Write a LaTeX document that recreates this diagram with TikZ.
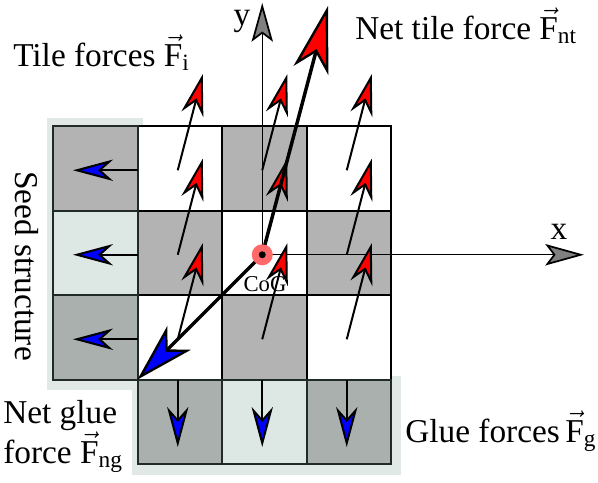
\documentclass[tikz,border=0pt]{standalone}
\usepackage{amsmath,amssymb}
\usepackage{fontspec}
\setmainfont{Liberation Serif}
\usetikzlibrary{arrows.meta}

\definecolor{tilegray}{RGB}{179,179,179}
\definecolor{seedlight}{RGB}{221,232,229}
\definecolor{seeddark}{RGB}{169,176,174}
\definecolor{seedback}{RGB}{224,233,230}
\definecolor{seedline}{RGB}{32,42,40}
\definecolor{cogred}{RGB}{255,105,105}
\definecolor{axisgray}{RGB}{128,128,128}

\newcommand{\vF}[1]{$\vec{\text{F}}_{\text{#1}}$}

\tikzset{
  tilearrow/.style={line width=1.5pt,-{Stealth[length=31pt,width=17pt,inset=10pt,fill=red,line width=1.5pt]}},
  gluearrow/.style={line width=1.2pt,-{Stealth[length=30pt,width=16pt,inset=9pt,fill=blue,line width=1.5pt]}},
  axisarrow/.style={line width=1pt,-{Stealth[length=29pt,width=16pt,inset=6pt,fill=axisgray,line width=1.3pt]}},
  nettile/.style={line width=2.6pt,-{Stealth[length=50pt,width=27pt,inset=14pt,fill=red,line width=1.8pt]}},
  netglue/.style={line width=2.6pt,-{Stealth[length=44pt,width=25pt,inset=12pt,fill=blue,line width=1.8pt]}},
  forcetext/.style={font=\fontsize{25}{30}\selectfont, inner sep=0pt},
}

\begin{document}
\begin{tikzpicture}[x=0.75pt,y=0.75pt,yscale=-1,xscale=1]
\useasboundingbox (0,0) rectangle (598,482);

%Shape: Rectangle (seed background)
\fill [seedback] (47,118) rectangle (143,390);
\fill [seedback] (132,376) rectangle (401,475);

%Shape: Rectangle (tiles)
\foreach \c/\r/\col in {1/0/white, 2/0/tilegray, 3/0/white, 1/1/tilegray, 2/1/white, 3/1/tilegray, 1/2/white, 2/2/tilegray, 3/2/white}
  \draw [line width=1.5pt, fill=\col] ({53+84.5*\c},{126+84.5*\r}) rectangle +(84.5,84.5);
%Shape: Rectangle (seed tiles)
\foreach \c/\r/\col in {0/0/tilegray, 0/1/seedlight, 0/2/seeddark, 1/3/seeddark, 2/3/seedlight, 3/3/seeddark}
  \draw [seedline, line width=1.5pt, fill=\col] ({53+84.5*\c},{126+84.5*\r}) rectangle +(84.5,84.5);

\coordinate (CoG) at (262.25,254.75);
\coordinate (ytip) at (262.25,3);
\coordinate (xtip) at (584,254.75);
\coordinate (nttip) at (328,6);
\coordinate (ngtip) at (137.5,379.5);

%Straight Lines (axes)
\draw [axisarrow] (CoG) -- (ytip);
\draw [axisarrow] (CoG) -- (xtip);

%Straight Lines (tile forces)
\foreach \c in {1,2,3}
  \foreach \r in {0,1,2} {
    \coordinate (t\c\r) at ({93.25+84.5*\c},{170.25+84.5*\r});
    \draw [tilearrow] (t\c\r) -- ++(25,-96);
  }
%Straight Lines (glue forces)
\foreach \r in {0,1,2}
  \draw [gluearrow] (137.5,{170.25+84.5*\r}) -- (73,{170.25+84.5*\r});
\foreach \c in {1,2,3}
  \draw [gluearrow] ({93.25+84.5*\c},379.5) -- ++(0,67.5);

%Straight Lines (net forces)
\draw [nettile] (CoG) -- (nttip);
\draw [netglue] (CoG) -- (ngtip);

%Shape: Circle
\fill [cogred] (CoG) circle (10.5);
\fill (CoG) circle (3.5);

% Text Node
\node (tileF) [forcetext, anchor=base west] at (13,66) {Tile forces \vF{i}};
% Text Node
\node (nettileF) [forcetext, anchor=base west] at (355,39) {Net tile force \vF{nt}};
% Text Node
\node (ylab) [forcetext, anchor=base] at (242,25) {y};
% Text Node
\node (xlab) [forcetext, anchor=base] at (559,239) {x};
% Text Node
\node (coglab) [font=\fontsize{17}{20}\selectfont, inner sep=0pt, anchor=base] at (265,291) {CoG};
% Text Node
\node (seedlab) [forcetext, rotate=-90] at (27,266) {Seed structure};
% Text Node
\node (netglueF) [forcetext, align=left, anchor=base west] at (3,463) {Net glue\\force \vF{ng}};
% Text Node
\node (glueF) [forcetext, anchor=base west] at (405,442) {Glue forces\,\vF{g}};

\end{tikzpicture}
\end{document}
